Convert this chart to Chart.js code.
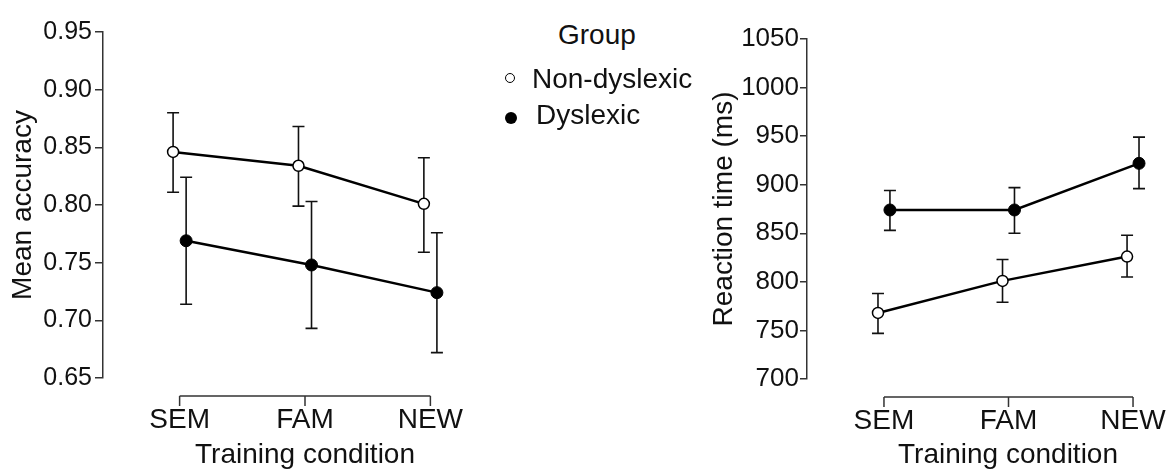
<!DOCTYPE html>
<html>
<head>
<meta charset="utf-8">
<script src="https://cdn.jsdelivr.net/npm/chart.js@4"></script>
<style>
  body { margin: 0; background: #fff; }
  #wrap { position: relative; width: 1168px; height: 471px; overflow: hidden; background: #fff;
          font-family: "Liberation Sans", Arial, sans-serif; color: #111; }
  canvas { position: absolute; top: 0; }
  #accChart { left: 0; }
  #rtChart { left: 690px; }
  .leg { position: absolute; font-size: 28px; line-height: 28px; white-space: nowrap; }
  .dot { position: absolute; border-radius: 50%; box-sizing: border-box; }
</style>
</head>
<body>
<div id="wrap">
  <canvas id="accChart" width="514" height="471"></canvas>
  <canvas id="rtChart" width="527" height="471"></canvas>
  <div class="leg" id="legTitle" style="left:558px; top:21px;"></div>
  <div class="dot" style="left:505px; top:73px; width:10px; height:10px; border:1.5px solid #000; background:#fff;"></div>
  <div class="leg" id="leg0" style="left:532px; top:65px;"></div>
  <div class="dot" style="left:504.5px; top:112px; width:12px; height:12px; background:#000;"></div>
  <div class="leg" id="leg1" style="left:536px; top:101px;"></div>
</div>
<script>
const categories = ["SEM", "FAM", "NEW"];
const groups = ["Non-dyslexic", "Dyslexic"];

// left panel: mean accuracy
const accNonDys = [0.846, 0.834, 0.801];
const accNonDysLow = [0.811, 0.799, 0.759];
const accNonDysHigh = [0.880, 0.868, 0.841];
const accDys = [0.769, 0.748, 0.724];
const accDysLow = [0.714, 0.693, 0.672];
const accDysHigh = [0.824, 0.803, 0.776];
const accTicks = [0.65, 0.70, 0.75, 0.80, 0.85, 0.90, 0.95];

// right panel: reaction time
const rtNonDys = [768, 801, 826];
const rtNonDysLow = [747, 779, 805];
const rtNonDysHigh = [788, 823, 848];
const rtDys = [874, 874, 922];
const rtDysLow = [853, 850, 896];
const rtDysHigh = [894, 897, 949];
const rtTicks = [700, 750, 800, 850, 900, 950, 1000, 1050];

document.getElementById("legTitle").textContent = "Group";
document.getElementById("leg0").textContent = groups[0];
document.getElementById("leg1").textContent = groups[1];

Chart.defaults.font.family = '"Liberation Sans", Arial, sans-serif';
Chart.defaults.color = "#111";

function points(values, shift) {
  return values.map((v, i) => ({ x: i + shift, y: v }));
}

const errorBars = {
  id: "errorBars",
  beforeDatasetsDraw(chart, args, opts) {
    const { ctx, scales: { x, y } } = chart;
    ctx.save();
    ctx.strokeStyle = "#111";
    ctx.lineWidth = 1.6;
    chart.data.datasets.forEach(ds => {
      ds.data.forEach((p, i) => {
        const px = x.getPixelForValue(p.x);
        const top = y.getPixelForValue(ds.high[i]);
        const bot = y.getPixelForValue(ds.low[i]);
        ctx.beginPath();
        ctx.moveTo(px, top); ctx.lineTo(px, bot);
        ctx.moveTo(px - opts.cap, top); ctx.lineTo(px + opts.cap, top);
        ctx.moveTo(px - opts.cap, bot); ctx.lineTo(px + opts.cap, bot);
        ctx.stroke();
      });
    });
    ctx.restore();
  }
};

// offset x axis: a bracket from first to last category
const bracket = {
  id: "bracket",
  afterDraw(chart, args, opts) {
    const { ctx, chartArea, scales: { x } } = chart;
    const y0 = chartArea.bottom + opts.gap;
    const xs = categories.map((c, i) => x.getPixelForValue(i));
    ctx.save();
    ctx.strokeStyle = "#333";
    ctx.lineWidth = 1.5;
    ctx.beginPath();
    ctx.moveTo(xs[0], y0);
    ctx.lineTo(xs[xs.length - 1], y0);
    xs.forEach(px => { ctx.moveTo(px, y0); ctx.lineTo(px, y0 + opts.tick); });
    ctx.stroke();
    ctx.restore();
  }
};

function panel(id, o) {
  return new Chart(document.getElementById(id), {
    type: "line",
    data: {
      datasets: [
        {
          label: groups[0],
          data: points(o.nonDys, -o.dodge),
          low: o.nonDysLow,
          high: o.nonDysHigh,
          borderColor: "#000",
          borderWidth: 2.5,
          pointRadius: 5.5,
          pointBackgroundColor: "#fff",
          pointBorderColor: "#000",
          pointBorderWidth: 1.5,
        },
        {
          label: groups[1],
          data: points(o.dys, o.dodge),
          low: o.dysLow,
          high: o.dysHigh,
          borderColor: "#000",
          borderWidth: 2.5,
          pointRadius: 6,
          pointBackgroundColor: "#000",
          pointBorderColor: "#000",
          pointBorderWidth: 1,
        },
      ],
    },
    options: {
      responsive: false,
      animation: false,
      layout: { padding: o.padding },
      plugins: {
        legend: { display: false },
        tooltip: { enabled: false },
        errorBars: { cap: o.cap },
        bracket: { gap: 18, tick: 10 },
      },
      scales: {
        x: {
          type: "linear",
          min: o.xMin,
          max: o.xMax,
          border: { display: false },
          grid: { display: false, drawTicks: false },
          afterBuildTicks: s => { s.ticks = categories.map((c, i) => ({ value: i })); },
          afterFit: s => { s.height = o.xHeight; },
          ticks: { autoSkip: false, maxRotation: 0, padding: 25, color: "#111", font: { size: 28 },
                   callback: v => categories[v] },
          title: { display: true, text: "Training condition", color: "#111",
                   font: { size: 28, lineHeight: 1.1 }, padding: 0 },
        },
        y: {
          type: "linear",
          min: o.ticks[0],
          max: o.ticks[o.ticks.length - 1],
          afterBuildTicks: s => { s.ticks = o.ticks.map(v => ({ value: v })); },
          afterFit: s => { s.width = o.yWidth; },
          border: { color: "#333", width: 1.5 },
          grid: { drawOnChartArea: false, drawTicks: true, tickLength: o.tickLen, color: "#333", lineWidth: 1.5 },
          ticks: { padding: o.tickPad, color: "#111", font: { size: o.tickFont }, callback: o.fmt },
          title: { display: true, text: o.yTitle, color: "#111", font: { size: 28 },
                   padding: { top: o.titlePad, bottom: 0 } },
        },
      },
    },
    plugins: [errorBars, bracket],
  });
}

panel("accChart", {
  nonDys: accNonDys, nonDysLow: accNonDysLow, nonDysHigh: accNonDysHigh,
  dys: accDys, dysLow: accDysLow, dysHigh: accDysHigh,
  ticks: accTicks, fmt: v => v.toFixed(2), yTitle: "Mean accuracy",
  dodge: 0.052, cap: 6,
  padding: { top: 32, right: 5, left: 0, bottom: 0 },
  yWidth: 103, xHeight: 93, xMin: -0.611, xMax: 2.611,
  tickLen: 8, tickPad: 3, tickFont: 25, titlePad: 6,
});

panel("rtChart", {
  nonDys: rtNonDys, nonDysLow: rtNonDysLow, nonDysHigh: rtNonDysHigh,
  dys: rtDys, dysLow: rtDysLow, dysHigh: rtDysHigh,
  ticks: rtTicks, fmt: v => String(v), yTitle: "Reaction time (ms)",
  dodge: 0.048, cap: 6,
  padding: { top: 39, right: 8, left: 0, bottom: 0 },
  yWidth: 117, xHeight: 92, xMin: -0.618, xMax: 2.61,
  tickLen: 7, tickPad: 1, tickFont: 26, titlePad: 17,
});
</script>
</body>
</html>
